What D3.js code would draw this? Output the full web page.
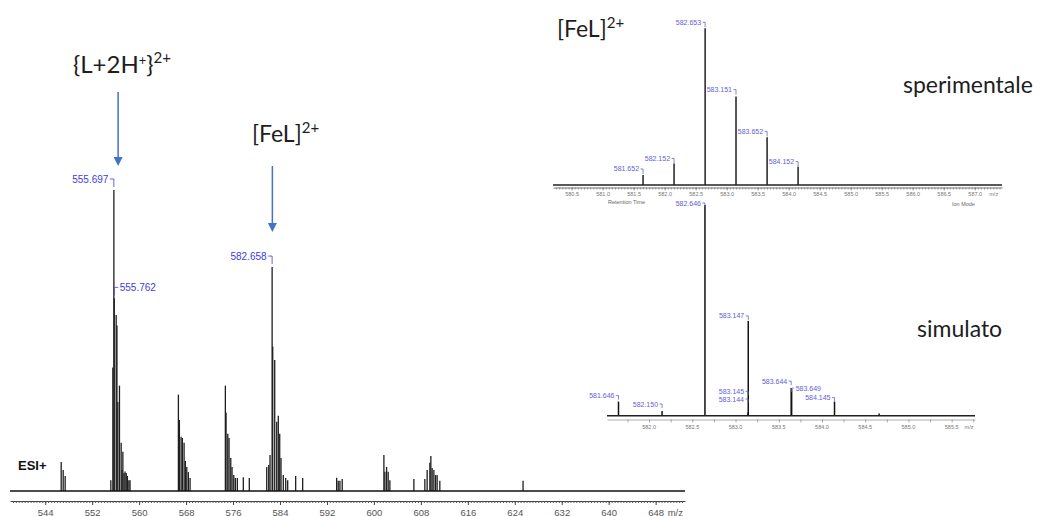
<!DOCTYPE html>
<html>
<head>
<meta charset="utf-8">
<script src="https://cdn.jsdelivr.net/npm/d3@7"></script>
<style>
  html, body { margin: 0; padding: 0; background: #fff; }
  svg { display: block; }
</style>
</head>
<body>
<svg id="chart" width="1040" height="516"></svg>
<script>
// ---- ESI+ full scan (m/z, relative intensity %) ----
const mainMz = [
  546.72, 547.06, 547.40,
  555.18, 555.52, 555.697, 555.762, 556.09, 556.22, 556.37, 556.65, 556.94, 557.08, 557.23, 557.42, 557.60, 557.80, 558.00, 558.25, 558.45,
  566.69, 566.86, 567.15, 567.37, 567.66, 567.88, 568.12, 568.39, 568.68,
  574.69, 574.81, 575.10, 575.32, 575.61, 575.83, 576.12, 576.39, 576.73, 577.75, 578.77,
  581.74, 582.08, 582.30, 582.658, 582.76, 583.10, 583.44, 583.71, 583.95, 584.17, 584.56, 584.97, 585.31, 586.67, 587.86,
  593.65, 593.92, 594.21, 594.60,
  601.70, 601.87, 602.16, 602.43, 602.72,
  606.81, 608.68, 609.07, 609.53, 609.70, 609.92, 610.21, 610.50, 610.77, 611.23,
  625.41
];
const mainInt = [
  9.6, 7.0, 5.0,
  3.6, 41, 100, 64, 58.5, 55, 29.6, 35, 16, 7, 13, 6, 6.5, 6, 5, 3.6, 3.6,
  32, 23.6, 18, 17.6, 16, 10, 8, 6.3, 4.3,
  35, 26, 19, 17.6, 11, 8, 5.3, 4.3, 4.3, 4.6, 4.3,
  8, 8.6, 12, 74.4, 48, 43.5, 23, 25, 19, 11, 5.3, 4.3, 3.6, 5, 4.3,
  4.4, 3.4, 3.4, 4,
  12, 6.4, 8, 6.4, 3.6,
  4, 4, 7, 9.4, 11.6, 7.6, 7, 5.3, 5.3, 3.4,
  3.4
];
const mainLabelMz = [555.697, 555.762, 582.658];
const mainTicks = d3.range(544, 649, 8);

// ---- [FeL]2+ isotope cluster: experimental ----
const expMz = [581.652, 582.152, 582.653, 583.151, 583.652, 584.152];
const expInt = [6.4, 13.8, 100, 56.4, 30.4, 11.7];
const expTicks = d3.range(580.5, 587.01, 0.5);

// ---- [FeL]2+ isotope cluster: simulated ----
const simMz = [581.646, 582.150, 582.646, 583.144, 583.145, 583.147, 583.644, 583.649, 584.145, 584.661];
const simInt = [6.7, 2.2, 100, 0.8, 1.6, 45, 13.1, 12.6, 6.7, 1.1];
const simLabelMz = [581.646, 582.150, 582.646, 583.144, 583.145, 583.147, 583.644, 583.649, 584.145];
const simTicks = d3.range(582.0, 585.51, 0.5);

// ---------------------------------------------------------------
const svg = d3.select("#chart");
const sans = "'Liberation Sans', Arial, sans-serif";
const bigFont = "Lato, 'Open Sans', sans-serif";
const blue = "#3d3de0";
const insetBlue = "#6262d8";
const fmt = d3.format(".3f");

// value label with a small bracket pointing down to the peak top
function peakLabel(g, x, yTop, text, opt) {
  const side = opt.side || "left";
  const by = yTop - opt.off;
  const s = side === "left" ? -1 : 1;
  g.append("path")
    .attr("d", `M${x + s * opt.arm},${by}H${x}V${by + opt.drop}`)
    .attr("fill", "none").attr("stroke", opt.color).attr("stroke-width", 0.8);
  g.append("text")
    .attr("x", x + s * (opt.arm + opt.gap))
    .attr("y", by + opt.size * 0.36)
    .attr("text-anchor", side === "left" ? "end" : "start")
    .attr("font-family", sans).attr("font-size", opt.size)
    .attr("fill", opt.color).text(text);
}

function sticks(g, mz, inten, x, y, width, color) {
  g.selectAll(null).data(mz).join("line")
    .attr("x1", d => x(d)).attr("x2", d => x(d))
    .attr("y1", y(0)).attr("y2", (d, i) => y(inten[i]))
    .attr("stroke", color).attr("stroke-width", width);
}

// ================= main spectrum =================
const xMain = d3.scaleLinear().domain([538, 653]).range([10, 685]);
const yMain = d3.scaleLinear().domain([0, 100]).range([491, 190]);
const gMain = svg.append("g");

sticks(gMain, mainMz, mainInt, xMain, yMain, 1.3, "#1f1f1f");
gMain.append("line")
  .attr("x1", xMain.range()[0]).attr("x2", xMain.range()[1])
  .attr("y1", yMain(0)).attr("y2", yMain(0))
  .attr("stroke", "#111").attr("stroke-width", 1.5);

const axMainMinor = gMain.append("g").attr("transform", "translate(0,501)")
  .call(d3.axisBottom(xMain).tickValues(d3.range(538.5, 653, 0.5)).tickSize(2).tickSizeOuter(0).tickFormat(""));
axMainMinor.selectAll("line").attr("stroke", "#555");
axMainMinor.select(".domain").attr("stroke", "#444").attr("stroke-width", 1);

const axMain = gMain.append("g").attr("transform", "translate(0,501)")
  .call(d3.axisBottom(xMain).tickValues(mainTicks).tickSize(4).tickSizeOuter(0).tickFormat(d3.format("d")));
axMain.select(".domain").remove();
axMain.selectAll("line").attr("stroke", "#444");
axMain.selectAll("text").attr("dy", null).attr("y", 14.5)
  .attr("font-family", sans).attr("font-size", 9.5).attr("fill", "#555");
gMain.append("text").attr("x", xMain(648) + 12).attr("y", 515.5)
  .attr("font-family", sans).attr("font-size", 9.5).attr("fill", "#555").text("m/z");

const mainLabelSide = ["left", "right", "left"];
mainLabelMz.forEach((m, i) => {
  const k = mainMz.indexOf(m);
  peakLabel(gMain, xMain(m), yMain(mainInt[k]), fmt(m),
    { side: mainLabelSide[i], off: 11, drop: 8, arm: 4, gap: 1.5, size: 10, color: blue });
});

gMain.append("text").attr("x", 18).attr("y", 470)
  .attr("font-family", sans).attr("font-size", 13).attr("font-weight", "bold")
  .attr("fill", "#111").text("ESI+");

// annotation arrows
const arrowBlue = "#4472C4";
function arrow(x, y1, y2) {
  gMain.append("line").attr("x1", x).attr("x2", x).attr("y1", y1).attr("y2", y2 - 7)
    .attr("stroke", arrowBlue).attr("stroke-width", 1.5);
  gMain.append("path").attr("d", `M${x - 4.5},${y2 - 9}L${x + 4.5},${y2 - 9}L${x},${y2}Z`)
    .attr("fill", arrowBlue);
}
arrow(xMain(556.42), 92, 166);
arrow(xMain(582.70), 166, 232);

function formula(x, y, size, parts) {
  const t = svg.append("text").attr("x", x).attr("y", y)
    .attr("font-family", bigFont).attr("font-size", size).attr("fill", "#1e1e1e");
  parts.forEach(p => {
    const ts = t.append("tspan").text(p.t);
    if (p.size) ts.attr("font-size", p.size);
    if (p.dy) ts.attr("dy", p.dy);
  });
}
formula(73, 73, 24, [
  { t: "{L+2H" }, { t: "+", size: 13, dy: -8 }, { t: "}", dy: 8 }, { t: "2+", size: 15, dy: -10 }
]);
formula(252, 142, 23, [{ t: "[FeL]" }, { t: "2+", size: 15, dy: -9 }]);

// ================= experimental inset =================
const xExp = d3.scaleLinear().domain([580.2, 587.44]).range([553, 1002]);
const yExp = d3.scaleLinear().domain([0, 100]).range([185, 28.3]);
const gExp = svg.append("g");

sticks(gExp, expMz, expInt, xExp, yExp, 1.4, "#111");
gExp.append("line").attr("x1", xExp.range()[0]).attr("x2", xExp.range()[1])
  .attr("y1", yExp(0)).attr("y2", yExp(0)).attr("stroke", "#222").attr("stroke-width", 1.3);
const axExpMinor = gExp.append("g").attr("transform", "translate(0,187.5)")
  .call(d3.axisBottom(xExp).tickValues(d3.range(580.25, 587.44, 0.05)).tickSize(2).tickSizeOuter(0).tickFormat(""));
axExpMinor.selectAll("line").attr("stroke", "#666").attr("stroke-width", 0.6);
axExpMinor.select(".domain").attr("stroke", "#555").attr("stroke-width", 0.8);
const axExp = gExp.append("g").attr("transform", "translate(0,187.5)")
  .call(d3.axisBottom(xExp).tickValues(expTicks).tickSize(3).tickSizeOuter(0).tickFormat(d3.format(".1f")));
axExp.select(".domain").remove();
axExp.selectAll("line").attr("stroke", "#666").attr("stroke-width", 0.6);
axExp.selectAll("text").attr("dy", null).attr("y", 8.5)
  .attr("font-family", sans).attr("font-size", 5.5).attr("fill", "#777");
gExp.append("text").attr("x", xExp(587.0) + 19).attr("y", 196)
  .attr("text-anchor", "middle").attr("font-family", sans).attr("font-size", 5.5).attr("fill", "#777").text("m/z");
gExp.append("text").attr("x", 608).attr("y", 203.5)
  .attr("font-family", sans).attr("font-size", 5.5).attr("fill", "#666").text("Retention Time");
gExp.append("text").attr("x", 952).attr("y", 206)
  .attr("font-family", sans).attr("font-size", 5.5).attr("fill", "#666").text("Ion Mode");

const expOff = [6, 5, 6, 7, 6, 5];
expMz.forEach((m, i) => {
  peakLabel(gExp, xExp(m), yExp(expInt[i]), fmt(m),
    { side: "left", off: expOff[i], drop: 5, arm: 2.5, gap: 1.5, size: 7, color: insetBlue });
});

formula(557, 37, 23, [{ t: "[FeL]" }, { t: "2+", size: 15, dy: -9 }]);
formula(903, 93, 23, [{ t: "sperimentale" }]);

// ================= simulated inset =================
const xSim = d3.scaleLinear().domain([581.513, 585.77]).range([607, 975]);
const ySim = d3.scaleLinear().domain([0, 100]).range([415.7, 205]);
const gSim = svg.append("g");

sticks(gSim, simMz, simInt, xSim, ySim, 1.5, "#111");
gSim.append("line").attr("x1", xSim.range()[0]).attr("x2", xSim.range()[1])
  .attr("y1", ySim(0)).attr("y2", ySim(0)).attr("stroke", "#222").attr("stroke-width", 1.6);
const axSim = gSim.append("g").attr("transform", "translate(0,419.5)")
  .call(d3.axisBottom(xSim).tickValues(d3.range(581.75, 585.76, 0.25)).tickSize(3).tickSizeOuter(0).tickFormat(""));
axSim.select(".domain").attr("stroke", "#777").attr("stroke-width", 0.6);
axSim.selectAll("line").attr("stroke", "#777").attr("stroke-width", 0.6);
gSim.selectAll(null).data(simTicks).join("text")
  .attr("x", d => xSim(d)).attr("y", 428.5).attr("text-anchor", "middle")
  .attr("font-family", sans).attr("font-size", 5.5).attr("fill", "#777")
  .text(d3.format(".1f"));
gSim.append("text").attr("x", 969).attr("y", 428.5).attr("text-anchor", "middle")
  .attr("font-family", sans).attr("font-size", 5.5).attr("fill", "#777").text("m/z");

// label layout: side and lift above the peak top
const simLayout = {
  581.646: ["left", 6], 582.150: ["left", 7], 582.646: ["left", 2],
  583.144: ["left", 15], 583.145: ["left", 21], 583.147: ["left", 5],
  583.644: ["left", 7], 583.649: ["right", 1], 584.145: ["left", 4]
};
simLabelMz.forEach(m => {
  const k = simMz.indexOf(m);
  const [side, off] = simLayout[m];
  peakLabel(gSim, xSim(m), ySim(simInt[k]), fmt(m),
    { side, off, drop: 4, arm: 2.5, gap: 1.5, size: 7, color: insetBlue });
});

formula(917, 337, 23, [{ t: "simulato" }]);
</script>
</body>
</html>
